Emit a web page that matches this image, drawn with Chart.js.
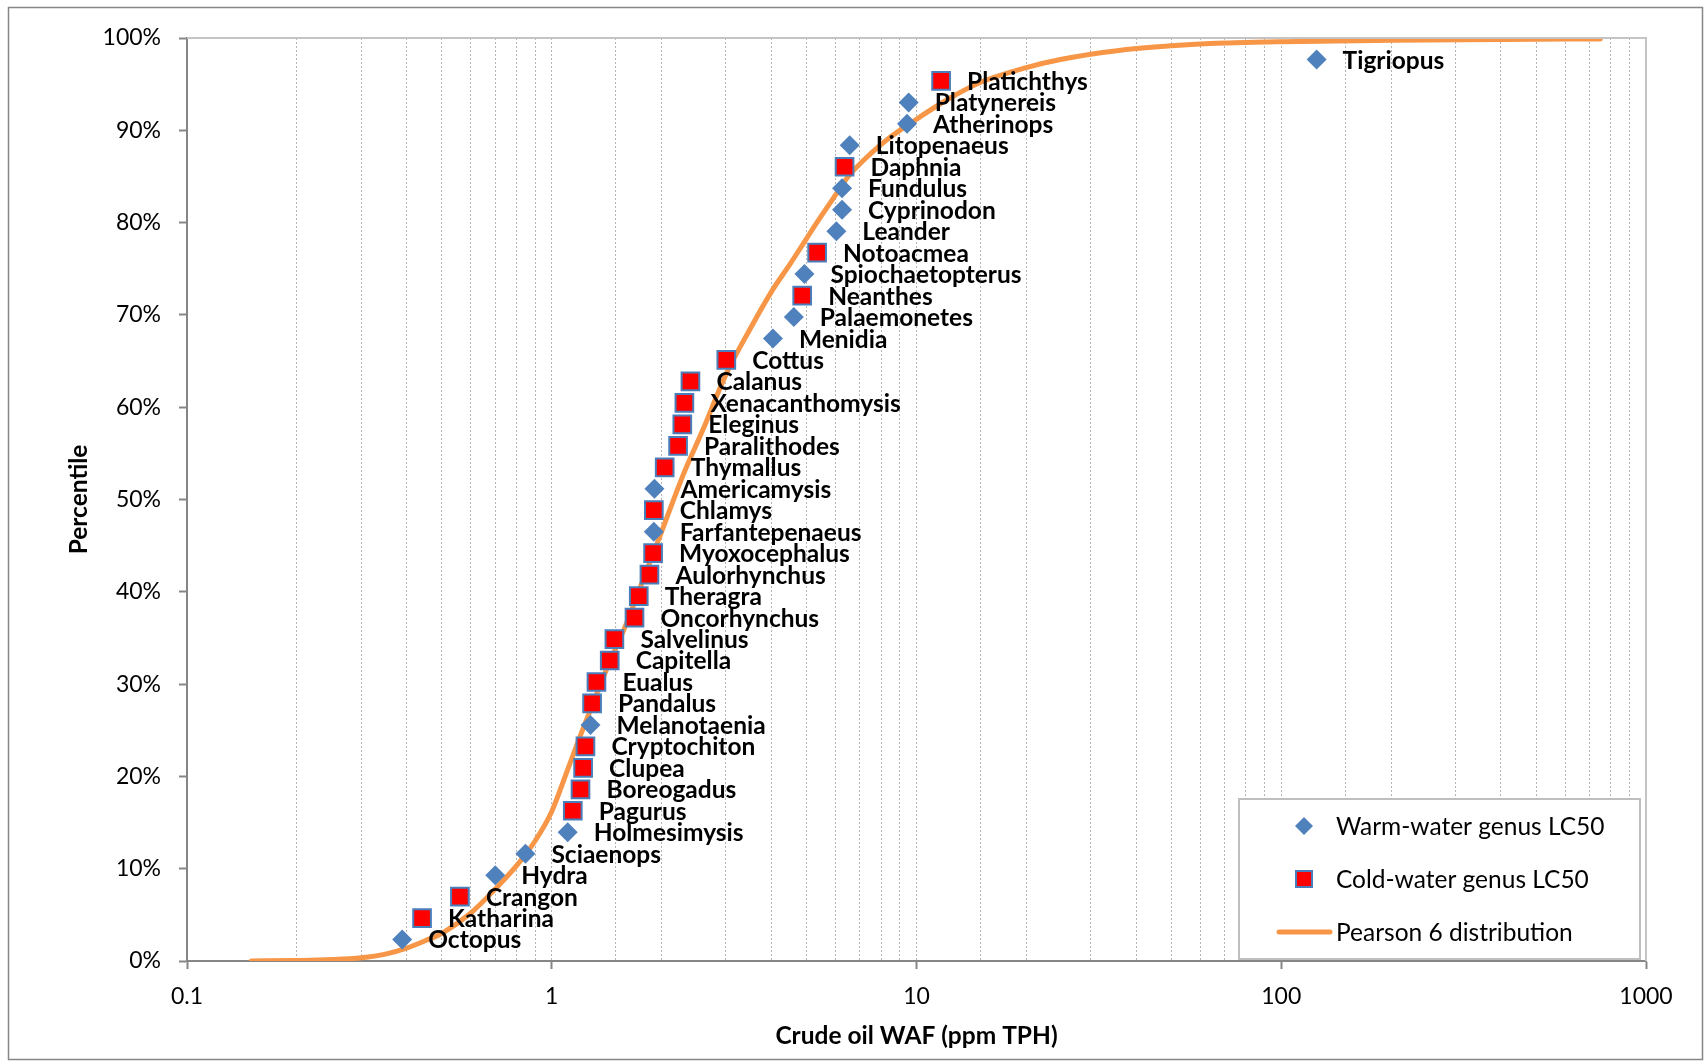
<!DOCTYPE html>
<html><head><meta charset="utf-8">
<script src="https://cdn.jsdelivr.net/npm/chart.js@4.4.0/dist/chart.umd.min.js"></script>
<style>html,body{margin:0;padding:0;background:#fff;} canvas{display:block;}</style>
</head><body>
<canvas id="c" width="1705" height="1061" style="width:1705px;height:1061px"></canvas>
<script>
// ---- data ----
const warmNames = ['Octopus','Hydra','Sciaenops','Holmesimysis','Melanotaenia','Farfantepenaeus','Americamysis','Menidia','Palaemonetes','Spiochaetopterus','Leander','Cyprinodon','Fundulus','Litopenaeus','Atherinops','Platynereis','Tigriopus'];
const warmX = [0.389,0.70,0.847,1.106,1.277,1.905,1.912,4.04,4.61,4.93,6.03,6.25,6.25,6.56,9.42,9.52,125];
const warmY = [2.33,9.30,11.63,13.95,25.58,46.51,51.16,67.44,69.77,74.42,79.07,81.40,83.72,88.37,90.70,93.02,97.67];

const coldNames = ['Katharina','Crangon','Pagurus','Boreogadus','Clupea','Cryptochiton','Pandalus','Eualus','Capitella','Salvelinus','Oncorhynchus','Theragra','Aulorhynchus','Myoxocephalus','Chlamys','Thymallus','Paralithodes','Eleginus','Xenacanthomysis','Calanus','Cottus','Neanthes','Notoacmea','Daphnia','Platichthys'];
const coldX = [0.441,0.560,1.142,1.199,1.219,1.237,1.29,1.326,1.442,1.485,1.686,1.732,1.853,1.896,1.905,2.04,2.22,2.28,2.31,2.40,3.01,4.86,5.34,6.35,11.68];
const coldY = [4.65,6.98,16.28,18.60,20.93,23.26,27.91,30.23,32.56,34.88,37.21,39.53,41.86,44.19,48.84,53.49,55.81,58.14,60.47,62.79,65.12,72.09,76.74,86.05,95.35];

const curveX = [0.15,0.2,0.25,0.3,0.35,0.4,0.45,0.5,0.6,0.7,0.8,0.9,1.0,1.1,1.2,1.3,1.4,1.6,1.8,2.0,2.3,2.6,3.0,3.5,4.0,4.5,5.0,5.5,6.0,6.5,7.5,8.5,10,12,15,20,25,35,50,70,100,200,400,750];
const curveY = [0,0.05,0.15,0.35,0.75,1.4,2.2,3.0,5.2,7.8,10.3,13.0,16.2,20.5,24.5,28.0,31.2,36.5,41.8,46.5,52.8,57.6,63.5,68.5,72.5,75.5,78.3,80.8,83.0,85.0,87.5,89.3,91.2,93.2,95.2,96.8,97.7,98.6,99.15,99.45,99.6,99.75,99.85,99.9];

const xMajorTicks = [0.1,1,10,100,1000];
const yTickStep = 10;

const seriesNames = ['Warm-water genus LC50','Cold-water genus LC50','Pearson 6 distribution'];
const xTitle = 'Crude oil WAF (ppm TPH)';
const yTitle = 'Percentile';

// ---- helpers ----
const toXY = (xs, ys) => xs.map((x, i) => ({x: x, y: ys[i]}));
const isMajor = v => xMajorTicks.some(m => Math.abs(v - m) / m < 1e-6);
const nameLists = [warmNames, coldNames];

const FONT = 'Lato';
const AXIS_GRAY = '#868686';

const pointLabels = {
  id: 'pointLabels',
  afterDatasetsDraw(chart) {
    const ctx = chart.ctx;
    ctx.save();
    ctx.font = 'bold 24.5px ' + FONT;
    ctx.fillStyle = '#000';
    ctx.textAlign = 'left';
    ctx.textBaseline = 'alphabetic';
    nameLists.forEach((names, di) => {
      const meta = chart.getDatasetMeta(di);
      meta.data.forEach((el, j) => {
        ctx.fillText(names[j], el.x + 26, el.y + 9);
      });
    });
    ctx.restore();
  }
};

const frame = {
  id: 'frame',
  beforeDraw(chart) {
    const ctx = chart.ctx;
    ctx.save();
    ctx.fillStyle = '#fff';
    ctx.fillRect(0, 0, chart.width, chart.height);
    ctx.strokeStyle = AXIS_GRAY;
    ctx.lineWidth = 1.5;
    ctx.strokeRect(8.5, 7.5, 1694, 1052);
    ctx.restore();
  },
  afterDraw(chart) {
    const ctx = chart.ctx;
    const a = chart.chartArea;
    ctx.save();
    ctx.strokeStyle = '#C4C4C4';
    ctx.lineWidth = 2;
    ctx.beginPath();
    ctx.moveTo(a.left, a.top);
    ctx.lineTo(a.right, a.top);
    ctx.lineTo(a.right, a.bottom);
    ctx.stroke();
    ctx.restore();
  }
};

const boxLegend = {
  id: 'boxLegend',
  afterDraw(chart) {
    const ctx = chart.ctx;
    const ds = chart.data.datasets;
    const bx = 1239, by = 799, bw = 401, bh = 160;
    ctx.save();
    ctx.fillStyle = '#fff';
    ctx.fillRect(bx, by, bw, bh);
    ctx.strokeStyle = '#BFBFBF';
    ctx.lineWidth = 2;
    ctx.strokeRect(bx, by, bw, bh);
    const rows = [826, 879, 932];
    const mx = 1304;
    // warm diamond
    ctx.fillStyle = ds[0].backgroundColor;
    ctx.beginPath();
    ctx.moveTo(mx, rows[0] - 9); ctx.lineTo(mx + 9, rows[0]); ctx.lineTo(mx, rows[0] + 9); ctx.lineTo(mx - 9, rows[0]);
    ctx.closePath(); ctx.fill();
    // cold square
    ctx.fillStyle = ds[1].backgroundColor;
    ctx.strokeStyle = ds[1].borderColor;
    ctx.lineWidth = 2;
    ctx.fillRect(mx - 8, rows[1] - 8, 16, 16);
    ctx.strokeRect(mx - 8, rows[1] - 8, 16, 16);
    // line
    ctx.strokeStyle = ds[2].borderColor;
    ctx.lineWidth = 5;
    ctx.lineCap = 'round';
    ctx.beginPath(); ctx.moveTo(1279, rows[2]); ctx.lineTo(1330, rows[2]); ctx.stroke();
    // text
    ctx.fillStyle = '#000';
    ctx.font = '24.5px ' + FONT;
    ctx.textAlign = 'left';
    ctx.textBaseline = 'middle';
    ds.forEach((d, i) => ctx.fillText(d.label, 1336, rows[i] + 1));
    ctx.restore();
  }
};

new Chart(document.getElementById('c'), {
  type: 'scatter',
  data: {
    datasets: [
      {
        label: seriesNames[0],
        data: toXY(warmX, warmY),
        pointStyle: 'rectRot',
        pointRadius: 10,
        pointHoverRadius: 10,
        backgroundColor: '#4F81BD',
        borderColor: '#4F81BD',
        borderWidth: 0
      },
      {
        label: seriesNames[1],
        data: toXY(coldX, coldY),
        pointStyle: 'rect',
        pointRadius: 12.5,
        pointHoverRadius: 12.5,
        backgroundColor: '#FF0000',
        borderColor: '#4A7EBB',
        borderWidth: 2
      },
      {
        label: seriesNames[2],
        data: toXY(curveX, curveY),
        showLine: true,
        pointRadius: 0,
        pointHoverRadius: 0,
        borderColor: '#F79646',
        backgroundColor: '#F79646',
        borderWidth: 5,
        borderCapStyle: 'round',
        cubicInterpolationMode: 'monotone'
      }
    ]
  },
  options: {
    responsive: false,
    animation: false,
    devicePixelRatio: 1,
    layout: { padding: { top: 38, right: 59, left: 0, bottom: 0 } },
    plugins: { legend: { display: false }, tooltip: { enabled: false } },
    scales: {
      x: {
        type: 'logarithmic',
        min: 0.1,
        max: 1000,
        afterFit(s) { s.height = 100; },
        border: { display: true, color: AXIS_GRAY, width: 2, dash: [2, 2] },
        grid: {
          drawOnChartArea: true,
          drawTicks: true,
          tickLength: 8,
          lineWidth: 1,
          color: c => (c.tick && (Math.abs(c.tick.value - 0.1) < 1e-9 || Math.abs(c.tick.value - 1000) < 1e-6)) ? 'rgba(0,0,0,0)' : '#B4B4B4',
          tickColor: c => (c.tick && isMajor(c.tick.value)) ? AXIS_GRAY : 'rgba(0,0,0,0)',
          tickWidth: 2,
          tickBorderDash: []
        },
        ticks: {
          autoSkip: false,
          maxRotation: 0,
          padding: 14,
          color: '#000',
          font: { family: FONT, size: 23 },
          callback: v => isMajor(v) ? String(xMajorTicks.find(m => Math.abs(v - m) / m < 1e-6)) : ''
        },
        title: {
          display: true,
          text: xTitle,
          color: '#000',
          font: { family: FONT, size: 24.5, weight: 'bold' },
          padding: { top: 0, bottom: 10 }
        }
      },
      y: {
        type: 'linear',
        min: 0,
        max: 100,
        afterFit(s) { s.width = 187; },
        border: { display: true, color: AXIS_GRAY, width: 2 },
        grid: {
          drawOnChartArea: false,
          drawTicks: true,
          tickLength: 8,
          tickColor: AXIS_GRAY,
          tickWidth: 2
        },
        ticks: {
          stepSize: yTickStep,
          padding: 18,
          color: '#000',
          font: { family: FONT, size: 23 },
          callback: v => v + '%'
        },
        title: {
          display: true,
          text: yTitle,
          color: '#000',
          font: { family: FONT, size: 24.5, weight: 'bold' },
          padding: { top: 64, bottom: 0 }
        }
      }
    }
  },
  plugins: [frame, pointLabels, boxLegend]
});
</script>
</body></html>
